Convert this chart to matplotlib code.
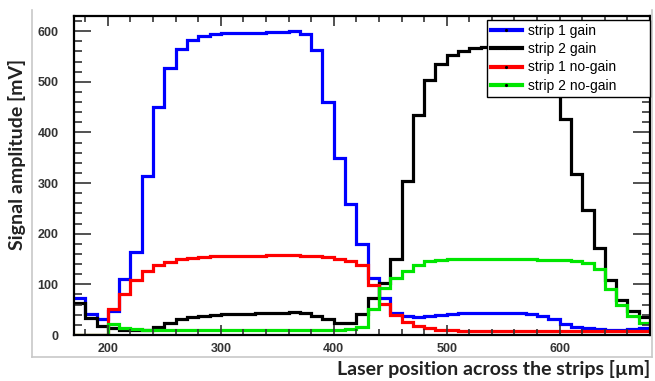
import numpy as np
import matplotlib.pyplot as plt
from matplotlib.lines import Line2D
from matplotlib.ticker import MultipleLocator

## bins: 10 um wide, 170 -> 680 um
edges = np.arange(170, 681, 10)

strip1_gain = [73, 42, 31, 48, 111, 164, 314, 451, 528, 564,
               582, 591, 595, 596, 597, 597, 597, 598, 598, 600,
               595, 562, 460, 349, 259, 180, 112, 73, 43, 38,
               35, 37, 40, 42, 43, 43, 44, 44, 44, 43,
               42, 38, 31, 21, 16, 13, 11, 10, 10, 12, 14]
strip2_gain = [64, 34, 17, 14, 10, 9, 9, 15, 23, 31,
               35, 38, 40, 41, 41, 42, 43, 44, 44, 45,
               44, 38, 32, 24, 23, 42, 74, 103, 150, 305,
               434, 503, 536, 552, 561, 566, 569, 571, 572, 572,
               570, 562, 530, 427, 318, 247, 172, 108, 69, 47, 36]
strip1_nogain = [0, 0, 0, 52, 81, 109, 126, 138, 145, 150,
                 153, 155, 156, 156, 157, 157, 157, 158, 158, 158,
                 157, 156, 154, 151, 147, 138, 98, 61, 39, 26,
                 18, 13, 10, 9, 8, 8, 8, 8, 8, 8,
                 8, 8, 8, 8, 7, 7, 7, 7, 7, 7, 7]
strip2_nogain = [0, 0, 0, 21, 14, 11, 10, 10, 10, 10,
                 9, 9, 9, 9, 10, 10, 10, 10, 10, 10,
                 10, 10, 10, 10, 11, 16, 52, 92, 112, 127,
                 139, 146, 149, 150, 150, 150, 151, 151, 151, 151,
                 150, 149, 148, 148, 146, 142, 131, 90, 59, 38, 24]

labels = ['strip 1 gain', 'strip 2 gain', 'strip 1 no-gain', 'strip 2 no-gain']
colors = ['#0000ff', '#000000', '#ff0000', '#00e600']
series = [strip1_gain, strip2_gain, strip1_nogain, strip2_nogain]

fig = plt.figure(figsize=(6.55, 3.81), dpi=100)
ax = fig.add_axes([74/655, 1-335/381, 576/655, 319/381])

for vals, c in zip(series, colors):
    ax.stairs(vals, edges, color=c, lw=2.3, baseline=None)

ax.set_xlim(170, 680)
ax.set_ylim(0, 630)

ax.xaxis.set_major_locator(MultipleLocator(100))
ax.xaxis.set_minor_locator(MultipleLocator(20))
ax.yaxis.set_major_locator(MultipleLocator(100))
ax.yaxis.set_minor_locator(MultipleLocator(20))
ax.tick_params(which='both', direction='in', top=True, right=True,
               color='#333333', width=1.2)
ax.tick_params(axis='y', which='major', length=12, pad=11)
ax.tick_params(axis='y', which='minor', length=6)
ax.tick_params(axis='x', which='major', length=7, pad=6)
ax.tick_params(axis='x', which='minor', length=4.5)
for lab in ax.get_xticklabels() + ax.get_yticklabels():
    lab.set_fontfamily('Liberation Sans')
    lab.set_fontweight('bold')
    lab.set_fontsize(9)
    lab.set_color('#333333')
for sp in ax.spines.values():
    sp.set_linewidth(1.6)

# light grey canvas border
fig.add_artist(Line2D([32/655, 32/655], [1-357/381, 1-10/381], color='#c8c8c8', lw=1.2))
fig.add_artist(Line2D([32/655, 652/655], [1-357/381, 1-357/381], color='#c8c8c8', lw=1.2))
fig.add_artist(Line2D([652/655, 652/655], [1-357/381, 1-10/381], color='#c8c8c8', lw=1.2))

fig.text(17/655, 1-154/381, 'Signal amplitude [mV]', rotation=90, ha='center', va='center',
         fontsize=14, fontweight='bold', family='Lato', color='#222222')
fig.text(650/655, 1-369/381, 'Laser position across the strips [\u00b5m]', ha='right', va='center',
         fontsize=14, fontweight='bold', family='Lato', color='#222222')

handles = [Line2D([], [], color=c, lw=3, marker='.', markersize=2.5,
                  markerfacecolor='k', markeredgecolor='k') for c in colors]
leg = fig.legend(handles, labels, loc='upper left', mode='expand',
                 bbox_to_anchor=(487/655, 1-93/381, 163/655, 73/381), borderaxespad=0,
                 fancybox=False, framealpha=1, edgecolor='black',
                 prop={'family': 'Liberation Sans', 'size': 10},
                 handlelength=2.2, handletextpad=0.45, labelspacing=0.3,
                 borderpad=0.3)
leg.get_frame().set_linewidth(1.0)

fig.savefig('out.png', dpi=100)
